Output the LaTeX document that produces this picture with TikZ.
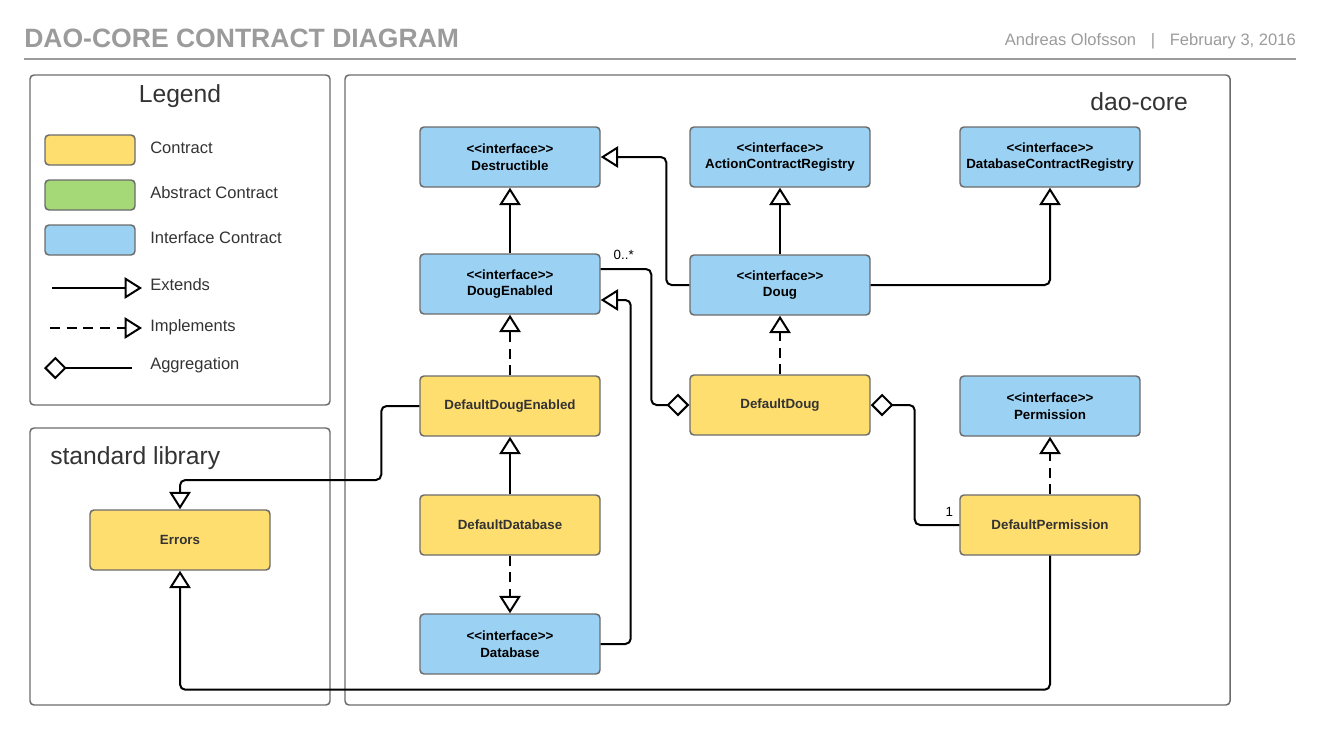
\documentclass[tikz,border=0pt]{standalone}
\usepackage{fontspec}
\setmainfont{Liberation Sans}
\usetikzlibrary{arrows.meta,positioning}
\definecolor{contract}{HTML}{FFDE70}
\definecolor{abstract}{HTML}{A5D977}
\definecolor{iface}{HTML}{9BD1F3}
\definecolor{rim}{HTML}{6B6B6B}
\definecolor{ink}{HTML}{333333}
\definecolor{faded}{HTML}{9B9B9B}
\newcommand{\stereo}{<\kern0pt<interface>\kern0pt>}
\begin{document}
\begin{tikzpicture}[x=0.75pt,y=-0.75pt,
    box/.style={draw=rim, line width=1.1pt, rounded corners=3pt, minimum width=135pt, minimum height=45pt, align=center, font=\fontsize{10}{12.5}\selectfont\bfseries},
    contractbox/.style={box, fill=contract, text=ink},
    ifacebox/.style={box, fill=iface, text=black},
    frame/.style={draw=rim, line width=1.1pt, rounded corners=3pt},
    heading/.style={text=ink, font=\fontsize{18.5}{22}\selectfont},
    legendtext/.style={text=ink, font=\fontsize{12.4}{15}\selectfont},
    link/.style={line width=1.5pt, rounded corners=4pt},
    ext/.style={link, -{Triangle[fill=white, width=16pt, length=13pt]}},
    impl/.style={ext, dash pattern=on 7.5pt off 5pt},
    agg/.style={link, {Diamond[fill=white, width=17pt, length=17pt]}-}]
                \tikzstyle{every node}+=[inner sep=0pt]
                \useasboundingbox (0,0) rectangle (1320,735);
                \node[anchor=base west, text=faded, font=\fontsize{19.9}{24}\selectfont\bfseries] (title) at (24,48) {DAO-CORE CONTRACT DIAGRAM};
                \node[anchor=base east, text=faded, font=\fontsize{12.4}{15}\selectfont] (byline) at (1296,46) {Andreas Olofsson\hspace{11pt}|\hspace{11pt}February 3, 2016};
                \draw [faded, line width=1.5pt] (24,59) -- (1296,59);
                % legend
                \draw [frame] (30,75) rectangle (330,405);
                \node[heading, anchor=base] (legend) at (180,103) {Legend};
                \node[contractbox, minimum width=67.5pt, minimum height=22.5pt] (keycontract) at (90,150) {};
                \node[box, fill=abstract, minimum width=67.5pt, minimum height=22.5pt] (keyabstract) at (90,195) {};
                \node[ifacebox, minimum width=67.5pt, minimum height=22.5pt] (keyiface) at (90,240) {};
                \node[legendtext, anchor=base west] (keycontracttext) at (150,153) {Contract};
                \node[legendtext, anchor=base west] (keyabstracttext) at (150,198) {Abstract Contract};
                \node[legendtext, anchor=base west] (keyifacetext) at (150,243) {Interface Contract};
                \draw [ext] (52,288) -- (142,288);
                \node[legendtext, anchor=base west] (keyext) at (150,290) {Extends};
                \draw [impl] (50,328) -- (142,328);
                \node[legendtext, anchor=base west] (keyimpl) at (150,331) {Implements};
                \draw [agg] (44,368) -- (132,368);
                \node[legendtext, anchor=base west] (keyagg) at (150,369) {Aggregation};
                % standard library
                \draw [frame] (30,428) rectangle (330,705);
                \node[heading, anchor=base west] (stdlib) at (50,464) {standard library};
                \node[contractbox] (errors) at (180,540) {Errors};
                % dao-core
                \draw [frame] (345,75) rectangle (1230,705);
                \node[heading, anchor=base east] (daocore) at (1188,110) {dao-core};
                \node[ifacebox] (destructible) at (510,157) {\stereo\\Destructible};
                \node[ifacebox] (actionreg) at (780,157) {\stereo\\ActionContractRegistry};
                \node[ifacebox] (dbreg) at (1050,157) {\stereo\\DatabaseContractRegistry};
                \node[ifacebox] (dougenabled) at (510,284) {\stereo\\DougEnabled};
                \node[ifacebox] (doug) at (780,285) {\stereo\\Doug};
                \node[contractbox] (defaultde) at (510,406) {DefaultDougEnabled};
                \node[contractbox] (defaultdoug) at (780,405) {DefaultDoug};
                \node[ifacebox] (permission) at (1050,406) {\stereo\\Permission};
                \node[contractbox] (defaultperm) at (1050,525) {DefaultPermission};
                \node[contractbox] (defaultdb) at (510,525) {DefaultDatabase};
                \node[ifacebox] (database) at (510,644) {\stereo\\Database};
                \draw [ext] (dougenabled) -- (destructible);
                \draw [ext] (doug.west) -- ++(-23,0) |- (destructible.east);
                \draw [ext] (doug) -- (actionreg);
                \draw [ext] (doug.east) -| (dbreg.south);
                \draw [impl] (defaultdoug) -- (doug);
                \draw [impl] (defaultde) -- (dougenabled);
                \draw [ext] (defaultdb) -- (defaultde);
                \draw [impl] (defaultdb) -- (database);
                \draw [impl] (defaultperm) -- (permission);
                \draw [ext] (database.east) -- ++(30,0) |- ([yshift=-12pt]dougenabled.east);
                \draw [agg] (defaultdoug.west) -- ++(-38,0) |- ([yshift=11.25pt]dougenabled.east) node[above right=6pt and 9pt, font=\fontsize{10}{12}\selectfont] (many) {0..*};
                \draw [agg] (defaultdoug.east) -- ++(44,0) |- (defaultperm.west) node[above left=6pt and 4pt, font=\fontsize{10}{12}\selectfont] (one) {1};
                \draw [ext] (defaultperm.south) -- ++(0,134) -| (errors.south);
                \draw [ext] (defaultde.west) -- ++(-38,0) -- ++(0,74) -| (errors.north);
            \end{tikzpicture}
\end{document}
